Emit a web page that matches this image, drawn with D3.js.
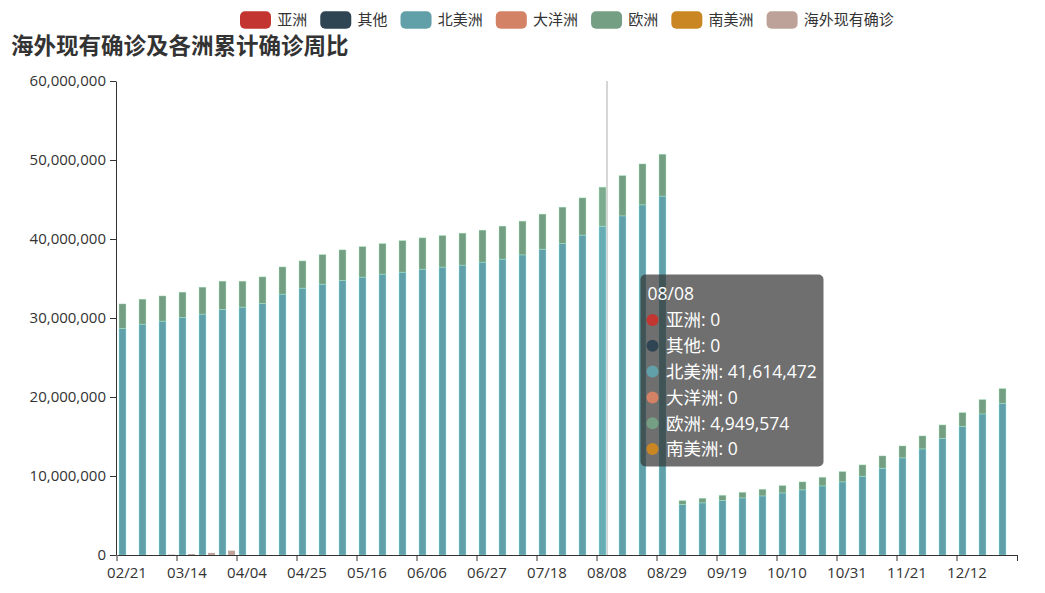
<!DOCTYPE html>
<html>
<head>
<meta charset="utf-8">
<script src="https://cdn.jsdelivr.net/npm/d3@7/dist/d3.min.js"></script>
<style>
  html, body { margin: 0; padding: 0; background: #fff; }
  svg { display: block; font-family: "Open Sans", "Noto Sans CJK SC", sans-serif; }
</style>
</head>
<body>
<svg id="chart" width="1045" height="593"></svg>
<script>
// ---------------- DATA ----------------
const categories = ["02/21","02/28","03/07","03/14","03/21","03/28","04/04","04/11","04/18","04/25",
  "05/02","05/09","05/16","05/23","05/30","06/06","06/13","06/20","06/27","07/04",
  "07/11","07/18","07/25","08/01","08/08","08/15","08/22","08/29","09/05","09/12",
  "09/19","09/26","10/03","10/10","10/17","10/24","10/31","11/07","11/14","11/21",
  "11/28","12/05","12/12","12/19","12/26"];

const xTickLabels = ["02/21","03/14","04/04","04/25","05/16","06/06","06/27","07/18","08/08","08/29","09/19","10/10","10/31","11/21","12/12"];
const yTicks = [0, 10000000, 20000000, 30000000, 40000000, 50000000, 60000000];

const asia = [0,0,0,0,0,0,0,0,0,0,0,0,0,0,0,0,0,0,0,0,0,0,0,0,0,0,0,0,0,0,0,0,0,0,0,0,0,0,0,0,0,0,0,0,0];
const other = [0,0,0,0,0,0,0,0,0,0,0,0,0,0,0,0,0,0,0,0,0,0,0,0,0,0,0,0,0,0,0,0,0,0,0,0,0,0,0,0,0,0,0,0,0];
const northAmerica = [28660000,29220000,29600000,30060000,30490000,31070000,31370000,31830000,33020000,33780000,
  34280000,34740000,35170000,35550000,35800000,36180000,36440000,36690000,37070000,37450000,
  37990000,38710000,39420000,40490000,41614472,42930000,44330000,45430000,6390000,6600000,
  6890000,7230000,7480000,7860000,8250000,8750000,9260000,9970000,10980000,12300000,
  13430000,14740000,16260000,17860000,19210000];
const oceania = [0,0,0,0,0,0,0,0,0,0,0,0,0,0,0,0,0,0,0,0,0,0,0,0,0,0,0,0,0,0,0,0,0,0,0,0,0,0,0,0,0,0,0,0,0];
const europe = [3130000,3160000,3200000,3210000,3410000,3590000,3290000,3380000,3450000,3450000,
  3750000,3890000,3870000,3870000,4000000,3970000,4000000,4050000,4050000,4180000,
  4270000,4440000,4610000,4720000,4949574,5100000,5180000,5300000,500000,580000,
  670000,710000,840000,930000,1010000,1090000,1300000,1440000,1570000,1510000,
  1650000,1730000,1770000,1820000,1860000];
const southAmerica = [0,0,0,0,0,0,0,0,0,0,0,0,0,0,0,0,0,0,0,0,0,0,0,0,0,0,0,0,0,0,0,0,0,0,0,0,0,0,0,0,0,0,0,0,0];
const overseasActive = [0, 0, 50000, 120000, 270000, 550000];

const seriesNames = ["亚洲","其他","北美洲","大洋洲","欧洲","南美洲","海外现有确诊"];
const seriesColors = ["#c23531","#2f4554","#61a0a8","#d48265","#749f83","#ca8622","#bda29a"];
const stackedValues = [asia, other, northAmerica, oceania, europe, southAmerica];
const hoverIndex = 24;

// ---------------- CHART ----------------
const svg = d3.select("#chart");
const x = d3.scaleBand().domain(categories).range([117, 1017]).paddingInner(0).paddingOuter(0);
const y = d3.scaleLinear().domain([0, 60000000]).range([555, 81]);
const bw = x.bandwidth();
const gapCat = bw * 0.2;
const barW = (bw - gapCat) / 2.3;
const barGap = barW * 0.3;

// Title
svg.append("text").attr("x", 11).attr("y", 54)
  .attr("font-size", 22.5).attr("font-weight", "bold").attr("fill", "#333")
  .style("font-family", "'Noto Sans CJK SC', sans-serif")
  .text("海外现有确诊及各洲累计确诊周比");

// Legend
const legend = svg.append("g");
let lx = 240;
seriesNames.forEach((n, i) => {
  const g = legend.append("g").attr("transform", `translate(${lx},0)`);
  g.append("rect").attr("x", 0).attr("y", 11.3).attr("width", 31).attr("height", 17.5)
    .attr("rx", 5).attr("fill", seriesColors[i]);
  const t = g.append("text").attr("x", 37.25).attr("y", 20).attr("dy", "0.36em")
    .attr("font-size", 15).attr("fill", "#333")
    .style("font-family", "'Noto Sans CJK SC', sans-serif").text(n);
  const tw = t.node().getComputedTextLength();
  lx += 37.25 + tw + 13;
});

// Rows for stacking
const rows = categories.map((c, i) => {
  const r = { cat: c };
  seriesNames.slice(0, 6).forEach((n, k) => r[n] = stackedValues[k][i]);
  return r;
});
const stacked = d3.stack().keys(seriesNames.slice(0, 6))(rows);

// Axis pointer line
svg.append("line")
  .attr("x1", x(categories[hoverIndex]) + bw / 2).attr("x2", x(categories[hoverIndex]) + bw / 2)
  .attr("y1", 81).attr("y2", 555)
  .attr("stroke", "#c8c8c8").attr("stroke-width", 1.5);

// Bars
const barsG = svg.append("g");
stacked.forEach((layer, k) => {
  barsG.append("g").selectAll("rect")
    .data(layer.filter(d => d[1] - d[0] > 0))
    .join("rect")
    .attr("x", d => x(d.data.cat) + gapCat / 2)
    .attr("width", barW)
    .attr("y", d => y(d[1]))
    .attr("height", d => y(d[0]) - y(d[1]))
    .attr("fill", d => d.data.cat === categories[hoverIndex] ? d3.color(seriesColors[k]).brighter(0.2) : seriesColors[k])
    .attr("stroke", d => d3.color(seriesColors[k]).brighter(1.2))
    .attr("stroke-opacity", 0.45)
    .attr("stroke-width", 0.8);
});
barsG.append("g").selectAll("rect")
  .data(overseasActive.map((v, i) => ({ cat: categories[i], v })).filter(d => d.v > 0))
  .join("rect")
  .attr("x", d => x(d.cat) + gapCat / 2 + barW + barGap)
  .attr("width", barW)
  .attr("y", d => y(d.v))
  .attr("height", d => y(0) - y(d.v))
  .attr("fill", seriesColors[6]);

// Y axis
const yAxis = svg.append("g").attr("transform", "translate(116,0)")
  .call(d3.axisLeft(y).tickValues(yTicks).tickFormat(d3.format(",")).tickSize(6).tickPadding(4).tickSizeOuter(0));
yAxis.selectAll("text").attr("font-size", 15).attr("fill", "#333").style("font-family", "'Open Sans', sans-serif");
yAxis.selectAll("line, path").attr("stroke", "#333");

// X axis
const xAxis = svg.append("g").attr("transform", "translate(0,555)")
  .call(d3.axisBottom(x).tickValues(xTickLabels).tickSize(6).tickPadding(6).tickSizeOuter(0));
xAxis.selectAll(".tick line").attr("x1", -bw / 2).attr("x2", -bw / 2);
xAxis.append("line").attr("x1", 1017.5).attr("x2", 1017.5).attr("y1", 0).attr("y2", 6);
xAxis.selectAll("text").attr("font-size", 15).attr("fill", "#333").style("font-family", "'Open Sans', sans-serif");
xAxis.selectAll("line, path").attr("stroke", "#333");

// Tooltip
const tip = svg.append("g").attr("transform", "translate(640.5,274.5)");
tip.append("rect").attr("width", 183).attr("height", 192).attr("rx", 5)
  .attr("fill", "rgba(50,50,50,0.7)");
tip.append("text").attr("x", 7).attr("y", 25.5).attr("font-size", 17.5).attr("fill", "#fff")
  .style("font-family", "'Open Sans', 'Noto Sans CJK SC', sans-serif")
  .text(categories[hoverIndex]);
const fmt = d3.format(",");
seriesNames.slice(0, 6).forEach((n, k) => {
  const cy = 45.5 + k * 25.8;
  tip.append("circle").attr("cx", 12).attr("cy", cy).attr("r", 6).attr("fill", seriesColors[k]);
  tip.append("text").attr("x", 25.5).attr("y", cy + 6.3).attr("font-size", 17.5).attr("fill", "#fff")
    .style("font-family", "'Open Sans', 'Noto Sans CJK SC', sans-serif")
    .text(n + ": " + fmt(stackedValues[k][hoverIndex]));
});
</script>
</body>
</html>
